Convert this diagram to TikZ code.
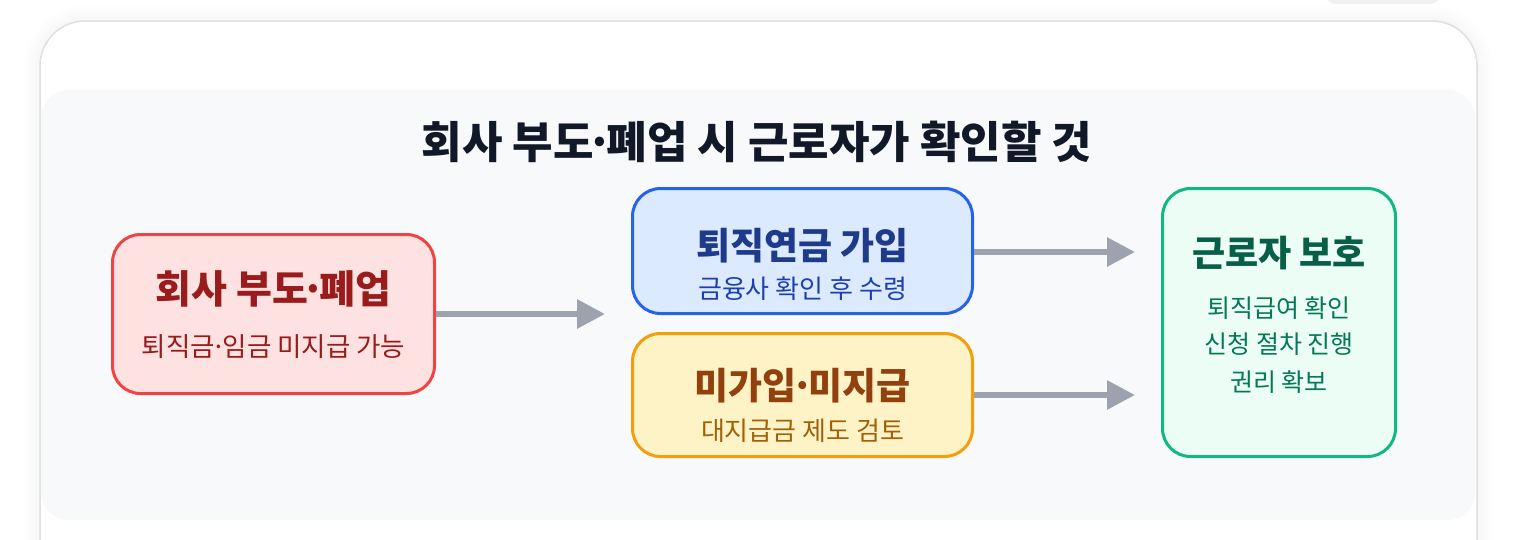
\documentclass[tikz,border=0pt]{standalone}
\usepackage{fontspec}
\newfontfamily\krfont{Noto Sans CJK KR}
\newcommand\krdot{\makebox[0.3em][c]{·}}
\definecolor{panelgray}{HTML}{F8F9FB}
\definecolor{cardline}{HTML}{E0E0E0}
\definecolor{inkdark}{HTML}{111827}
\definecolor{arrowgray}{HTML}{9CA3AF}
\definecolor{redfill}{HTML}{FEE2E2}
\definecolor{redline}{HTML}{EF4444}
\definecolor{redtext}{HTML}{991B1B}
\definecolor{bluefill}{HTML}{DBEAFE}
\definecolor{blueline}{HTML}{2563EB}
\definecolor{bluetext}{HTML}{1E3A8A}
\definecolor{bluesub}{HTML}{1E40AF}
\definecolor{amberfill}{HTML}{FEF3C7}
\definecolor{amberline}{HTML}{F59E0B}
\definecolor{ambertext}{HTML}{92400E}
\definecolor{ambersub}{HTML}{A16207}
\definecolor{greenfill}{HTML}{ECFDF5}
\definecolor{greenline}{HTML}{10B981}
\definecolor{greentext}{HTML}{065F46}
\definecolor{greensub}{HTML}{047857}
\usetikzlibrary{arrows.meta, calc}

\begin{document}
\begin{tikzpicture}[x=1pt, y=-1pt,
    box/.style={draw, line width=3pt, rounded corners=28pt, inner sep=0pt},
    flow/.style={draw=arrowgray, line width=6pt,
      -{Triangle[length=28pt, width=28pt]}, shorten >=26pt},
    headtext/.style={anchor=base, font=\krfont\bfseries\fontsize{37}{44}\selectfont},
    subtext/.style={anchor=base, font=\krfont\fontsize{26}{31}\selectfont}]
  \useasboundingbox (0,0) rectangle (1529,539);
  \clip (0,0) rectangle (1529,539);
  \fill[white] (0,0) rectangle (1529,539);

  % card, its shadow and the tab above it
  \fill[black!6, rounded corners=14pt] (1323,-30) rectangle (1443,4);
  \foreach \s in {4,8,...,32}
    \draw[black, opacity=0.0035, line width=\s pt, rounded corners=45pt]
      (40,21) rectangle (1477,640);
  \draw[cardline, fill=white, line width=1.5pt, rounded corners=45pt]
    (40,21) rectangle (1477,640);
  \fill[panelgray, rounded corners=28pt] (41,90) rectangle (1475,520);

  \node[anchor=base, text=inkdark, font=\krfont\bfseries\fontsize{44}{52}\selectfont]
    (heading) at (757,158.5) {회사 부도\krdot 폐업 시 근로자가 확인할 것};

  % boxes
  \node[box, fill=redfill, draw=redline, minimum width=322pt, minimum height=159pt]
    (crisis) at (273.5,314) {};
  \node[box, fill=bluefill, draw=blueline, minimum width=340pt, minimum height=125pt]
    (enrolled) at (802.5,251) {};
  \node[box, fill=amberfill, draw=amberline, minimum width=340pt, minimum height=123pt]
    (unpaid) at (802.5,395) {};
  \node[box, fill=greenfill, draw=greenline, minimum width=233pt, minimum height=268pt]
    (protect) at (1279,322.5) {};

  % texts
  \node[headtext, text=redtext, font=\krfont\bfseries\fontsize{39}{46}\selectfont]
    (crisishead) at (273.5,303) {회사 부도\krdot 폐업};
  \node[subtext, text=redtext, font=\krfont\fontsize{26.5}{31}\selectfont]
    (crisissub) at (273.5,356) {퇴직금\krdot 임금 미지급 가능};
  \node[headtext, text=bluetext] (enrolledhead) at (802.5,259.5) {퇴직연금 가입};
  \node[subtext, text=bluesub] (enrolledsub) at (802.5,298) {금융사 확인 후 수령};
  \node[headtext, text=ambertext] (unpaidhead) at (802.5,399) {미가입\krdot 미지급};
  \node[subtext, text=ambersub] (unpaidsub) at (802.5,440.5) {대지급금 제도 검토};
  \node[headtext, text=greentext, font=\krfont\bfseries\fontsize{36}{42}\selectfont]
    (protecthead) at (1279,266) {근로자 보호};
  \node[subtext, text=greensub, font=\krfont\fontsize{25}{30}\selectfont]
    (protectone) at (1279,317) {퇴직급여 확인};
  \node[subtext, text=greensub, font=\krfont\fontsize{25}{30}\selectfont]
    (protecttwo) at (1279,353.5) {신청 절차 진행};
  \node[subtext, text=greensub, font=\krfont\fontsize{25}{30}\selectfont]
    (protectthree) at (1279,391) {권리 확보};

  % arrows
  \draw[flow] (crisis.east) -- (crisis.east -| enrolled.west);
  \draw[flow] ([yshift=-1pt]enrolled.east) -- ([yshift=-1pt]enrolled.east -| protect.west);
  \draw[flow] (unpaid.east) -- (unpaid.east -| protect.west);
\end{tikzpicture}
\end{document}
